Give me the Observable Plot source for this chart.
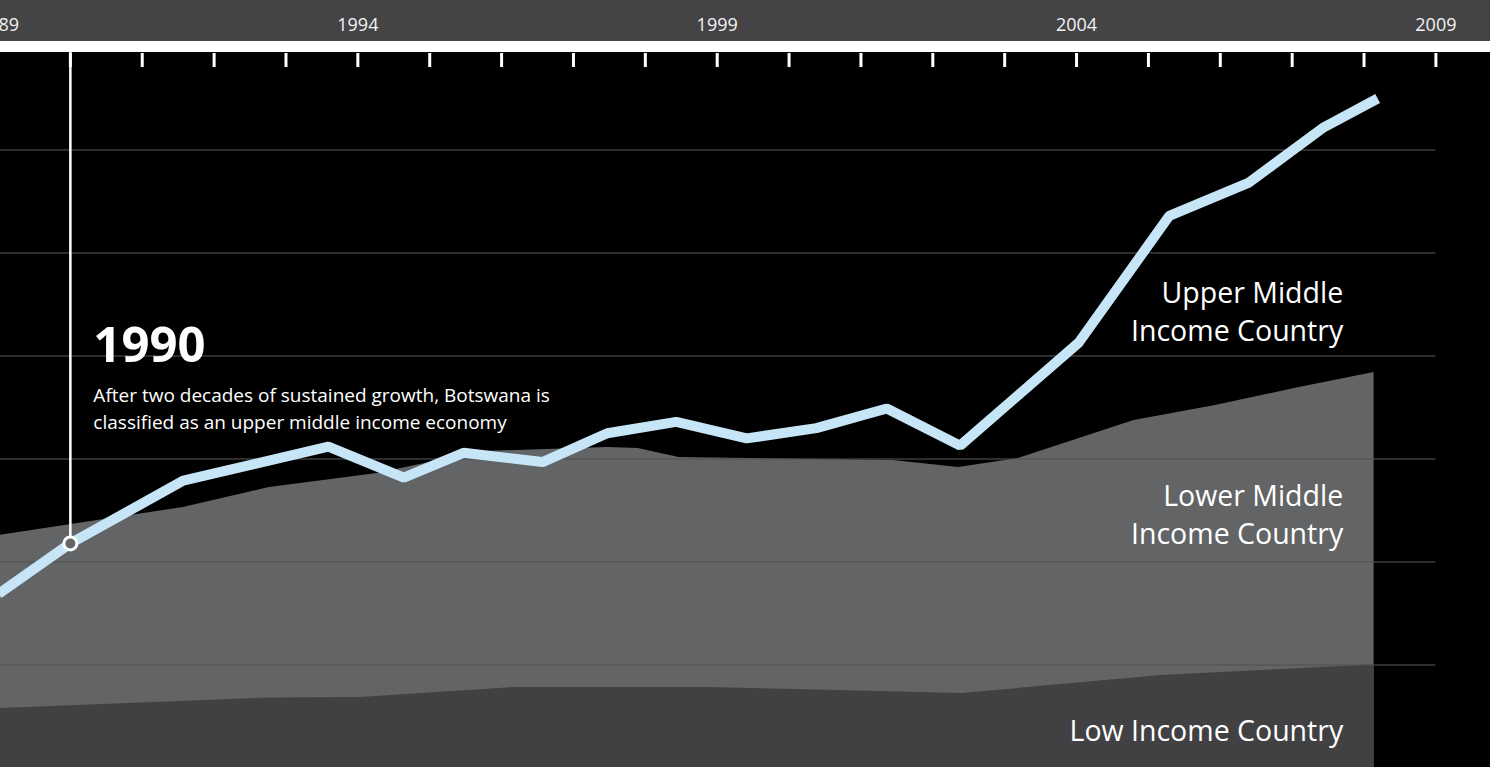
<!DOCTYPE html>
<html><head><meta charset="utf-8">
<script src="https://cdn.jsdelivr.net/npm/d3@7"></script>
<script src="https://cdn.jsdelivr.net/npm/@observablehq/plot@0.6"></script>
<style>
html,body{margin:0;padding:0;background:#000;overflow:hidden}
#chart svg{display:block}
</style></head><body><div id="chart"></div>
<script>
// Botswana GNI per capita (US$)
const gniYears = [1989, 1990, 1991.57, 1993.59, 1994.64, 1995.47, 1996.57, 1997.47, 1998.43, 1999.41, 2000.38, 2001.36, 2002.38, 2004.03, 2005.29, 2006.39, 2007.44, 2008.19];
const gniValues = [1690, 2180, 2790, 3120, 2820, 3060, 2970, 3250, 3360, 3200, 3300, 3490, 3130, 4130, 5360, 5680, 6220, 6500];
// Upper threshold of lower-middle income band
const lmYears = [1989, 1991.57, 1992.77, 1994.27, 1995.73, 1997.47, 1997.9, 1998.47, 2001.45, 2002.36, 2003.19, 2004.8, 2005.93, 2007.03, 2008.14];
const lmValues = [2257, 2529, 2723, 2859, 3073, 3112, 3102, 3015, 2985, 2917, 3005, 3374, 3519, 3684, 3840];
// Upper threshold of low income band
const lowYears = [1989, 1992.78, 1994.04, 1996.17, 1998.84, 2002.41, 2005.18, 2008.13];
const lowValues = [578, 680, 684, 782, 782, 723, 898, 1000];
// Axis
const tickYears = d3.range(1989, 2010);
const labelYears = [1989, 1994, 1999, 2004, 2009];
const gridValues = [0, 1000, 2000, 3000, 4000, 5000, 6000];
// Texts
const upperLabel = "Upper Middle\nIncome Country";
const lowerLabel = "Lower Middle\nIncome Country";
const lowLabel = "Low Income Country";
const eventYear = 1990;
const eventValue = 2180;
const eventTitle = "1990";
const eventText = "After two decades of sustained growth, Botswana is\nclassified as an upper middle income economy";

const gni = gniYears.map((year, i) => ({year, value: gniValues[i]}));
const lm = lmYears.map((year, i) => ({year, value: lmValues[i]}));
const low = lowYears.map((year, i) => ({year, value: lowValues[i]}));

const font = "'Open Sans', sans-serif";
const chart = Plot.plot({
  width: 1490,
  height: 767,
  marginTop: 66, marginLeft: 0, marginRight: 0, marginBottom: 0,
  style: {background: "linear-gradient(#444446 0 41px, #ffffff 41px 52px, #000000 52px)", fontFamily: font, color: "white", overflow: "hidden"},
  x: {domain: [1989, 2009], range: [-2, 1435.4], axis: null},
  y: {domain: [0, 7000], range: [767.5, 46.5], axis: null},
  marks: [
    Plot.areaY(lm, {x: "year", y: "value", fill: "#636466", curve: "linear"}),
    Plot.areaY(low, {x: "year", y: "value", fill: "#414143", curve: "linear"}),
    Plot.ruleY(gridValues, {x1: 1989, x2: 2009, stroke: "#505050", strokeOpacity: 0.75, strokeWidth: 1.5}),
    Plot.axisX({anchor: "top", ticks: tickYears, tickSize: 14, tickPadding: 22, stroke: "white", strokeWidth: 3,
      tickFormat: d => labelYears.includes(d) ? String(d) : "", fontSize: 18, fill: "#f2f2f2", label: null}),
    Plot.ruleX([eventYear], {y1: eventValue, y2: 7000, stroke: "white", strokeWidth: 2.5}),
    Plot.line(gni, {x: "year", y: "value", stroke: "#c6e6f7", strokeWidth: 10, strokeLinejoin: "miter", strokeLinecap: "butt"}),
    Plot.dot([{year: eventYear, value: eventValue}], {x: "year", y: "value", r: 6.5, fill: "#636466", stroke: "white", strokeWidth: 3}),
    Plot.text([upperLabel], {x: 2007.71, y: 4782, text: d => d, textAnchor: "end", lineAnchor: "top", lineHeight: 1.34, fontSize: 28.5, fill: "white"}),
    Plot.text([lowerLabel], {x: 2007.71, y: 2811, text: d => d, textAnchor: "end", lineAnchor: "top", lineHeight: 1.34, fontSize: 28.5, fill: "white"}),
    Plot.text([lowLabel], {x: 2007.71, y: 461, text: d => d, textAnchor: "end", lineAnchor: "top", fontSize: 28.5, fill: "white"}),
    Plot.text([eventTitle], {x: 1990.32, y: 4277, text: d => d, textAnchor: "start", lineAnchor: "top", fontSize: 49, fontWeight: "bold", fill: "white"}),
    Plot.text([eventText], {x: 1990.32, y: 3733, text: d => d, textAnchor: "start", lineAnchor: "top", lineHeight: 1.4, fontSize: 19, fill: "white"})
  ]
});
document.getElementById("chart").appendChild(chart);
</script>
</body></html>
